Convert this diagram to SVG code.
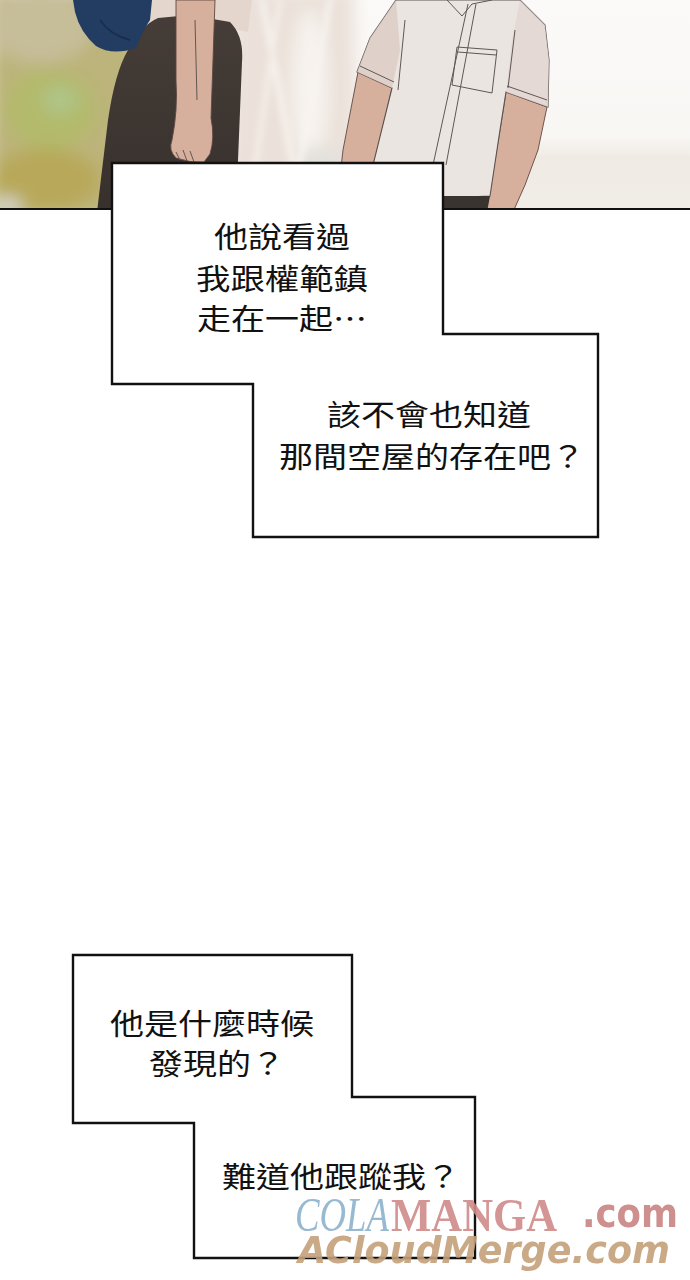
<svg xmlns="http://www.w3.org/2000/svg" width="690" height="1280" viewBox="0 0 690 1280">
<defs>
<style>
.cap{font-family:"Noto Sans CJK TC","Noto Sans CJK SC",sans-serif;font-size:29px;fill:#111;}
.box{fill:#fff;stroke:#111;stroke-width:2.4;stroke-linejoin:miter;}
.skin{fill:#d7b09d;stroke:#5e4842;stroke-width:0.9;}
.ln{fill:none;stroke:#5f5753;stroke-width:1;}
</style>
<clipPath id="panel"><rect x="0" y="0" width="690" height="210"/></clipPath>
<filter id="blur8" x="-20%" y="-20%" width="140%" height="140%"><feGaussianBlur stdDeviation="8"/></filter>
<filter id="blur3" x="-20%" y="-20%" width="140%" height="140%"><feGaussianBlur stdDeviation="3"/></filter>
<linearGradient id="rightbg" x1="0" y1="0" x2="0" y2="1">
<stop offset="0" stop-color="#fbfaf9"/><stop offset="0.65" stop-color="#f9f7f4"/><stop offset="0.75" stop-color="#efebe4"/><stop offset="1" stop-color="#f1ede7"/>
</linearGradient>
<linearGradient id="skirt" x1="0" y1="0" x2="0" y2="1">
<stop offset="0" stop-color="#463d38"/><stop offset="1" stop-color="#37302c"/>
</linearGradient>
</defs>
<rect width="690" height="1280" fill="#fff"/>

<g id="illustration" clip-path="url(#panel)">
<rect x="0" y="0" width="690" height="210" fill="url(#rightbg)"/>
<g filter="url(#blur8)">
<rect x="-10" y="-10" width="150" height="230" fill="#bcb47a"/>
<ellipse cx="40" cy="25" rx="55" ry="38" fill="#c6bd99"/>
<ellipse cx="50" cy="110" rx="45" ry="40" fill="#b3ba6c"/>
<ellipse cx="60" cy="100" rx="18" ry="14" fill="#aec588"/>
<ellipse cx="45" cy="180" rx="55" ry="32" fill="#b8a95a"/>
<ellipse cx="8" cy="205" rx="14" ry="8" fill="#d9d8d0"/>
<rect x="230" y="-10" width="125" height="230" fill="#ebe1da"/>
<ellipse cx="310" cy="90" rx="18" ry="80" fill="#f7f3ef"/>
<ellipse cx="320" cy="170" rx="30" ry="25" fill="#e3e1dc"/>
</g>
<g filter="url(#blur3)">
<line x1="262" y1="0" x2="300" y2="200" stroke="#f6f1ec" stroke-width="6"/>
<line x1="280" y1="0" x2="250" y2="200" stroke="#f4eee8" stroke-width="5"/>
<line x1="330" y1="0" x2="295" y2="190" stroke="#f8f4f0" stroke-width="5"/>
</g>

<g id="girl">
<path d="M140,0 L252,0 L248,32 L215,26 L178,18 L150,24 Z" fill="#e4d6cc"/>
<path d="M97,212 L108,120 Q115,72 128,50 Q140,26 158,18 L190,15 L230,22 Q244,36 242,62 L238,160 L235,212 Z" fill="url(#skirt)"/>
<path d="M73,0 L152,0 L150,20 Q142,32 136,48 Q112,56 96,46 Q80,32 75,12 Z" fill="#233c62"/>
<path d="M100,20 Q110,35 130,40" fill="none" stroke="#182c4c" stroke-width="1.5"/>
<path d="M176,0 L215,0 L213,60 L211,118 Q215,138 210,154 L204,162 Q190,163 176,158 Q168,150 172,140 Q178,110 176,80 Z" class="skin"/>
<path d="M195,20 L197,100" class="ln" stroke-width="0.7"/>
<path d="M176,152 L180,160 M183,150 L187,161 M190,151 L194,162" class="ln" stroke-width="0.7"/>
</g>

<g id="boy">
<path d="M358,72 L392,88 L380,140 L374,170 L362,212 L336,212 L343,150 Z" class="skin"/>
<path d="M506,92 L547,107 L538,150 L525,185 L513,212 L486,212 L490,190 L500,130 Z" class="skin"/>
<path d="M396,0 L520,0 L545,25 L549,60 L548,107 L506,92 L500,130 L490,196 L443,198 L430,212 L378,212 L373,165 L392,88 L357,72 L370,38 Z" fill="#ebe5e2" stroke="#5a524e" stroke-width="1.1"/>
<path d="M396,0 L370,38 L357,72 L392,88 L400,50 Z" fill="#dccbc4" opacity="0.8"/>
<path d="M520,0 L545,25 L549,60 L548,107 L506,92 L512,40 Z" fill="#e2d6d1" opacity="0.8"/>
<path d="M443,196 L490,196 L487,212 L440,212 Z" fill="#3a3431"/>
<path d="M360,66 L394,82" class="ln"/>
<path d="M507,86 L547,100" class="ln"/>
<path d="M457,47 L497,50 L492,93 L452,85 Z" class="ln"/>
<path d="M458,52 L496,55" class="ln"/>
<path d="M468,4 L433,165" class="ln"/>
<path d="M476,4 L446,165" class="ln" stroke-width="0.6"/>
<path d="M447,0 L462,16 L472,4 L492,0" class="ln"/>
<path d="M405,20 L398,90" class="ln" stroke-width="0.6"/>
<path d="M515,30 L508,88" class="ln" stroke-width="0.6"/>
</g>
<line x1="0" y1="209.5" x2="690" y2="209.5" stroke="#111" stroke-width="3"/>
</g>

<g id="connectors"></g>

<g id="caption-pair-1">
<path class="box" d="M112,163 H443 V334 H598 V537 H253 V384 H112 Z"/>
<g id="caption-1">
<text class="cap" x="214" y="248" textLength="136" lengthAdjust="spacingAndGlyphs">他說看過</text>
<text class="cap" x="196" y="290" textLength="172" lengthAdjust="spacingAndGlyphs">我跟權範鎮</text>
<text class="cap" x="197" y="330" textLength="170" lengthAdjust="spacingAndGlyphs">走在一起…</text>
</g>
<g id="caption-2">
<text class="cap" x="327" y="426" textLength="204" lengthAdjust="spacingAndGlyphs">該不會也知道</text>
<text class="cap" x="279" y="468" textLength="306" lengthAdjust="spacingAndGlyphs">那間空屋的存在吧？</text>
</g>
</g>

<g id="caption-pair-2">
<path class="box" d="M73,955 H352 V1097 H475 V1258 H194 V1123 H73 Z"/>
<g id="caption-3">
<text class="cap" x="110" y="1035" textLength="204" lengthAdjust="spacingAndGlyphs">他是什麼時候</text>
<text class="cap" x="149" y="1075" textLength="136" lengthAdjust="spacingAndGlyphs">發現的？</text>
</g>
<g id="caption-4">
<text class="cap" x="222" y="1188" textLength="238" lengthAdjust="spacingAndGlyphs">難道他跟蹤我？</text>
</g>
</g>

<g id="watermark" opacity="0.9">
<text x="295" y="1231" font-family="Liberation Serif" font-style="italic" font-size="48" fill="#8db3cd" textLength="94" lengthAdjust="spacingAndGlyphs">COLA</text>
<text x="391" y="1231" font-family="Liberation Serif" font-weight="bold" font-size="46" fill="#d08a8a" textLength="166" lengthAdjust="spacingAndGlyphs">MANGA</text>
<text x="582" y="1227" font-family="DejaVu Sans" font-weight="bold" font-size="40" fill="#c98383" textLength="96" lengthAdjust="spacingAndGlyphs">.com</text>
<text x="298" y="1263" font-family="DejaVu Sans" font-weight="bold" font-style="italic" font-size="38" fill="#c4a07a" textLength="372" lengthAdjust="spacingAndGlyphs">ACloudMerge.com</text>
</g>
</svg>
